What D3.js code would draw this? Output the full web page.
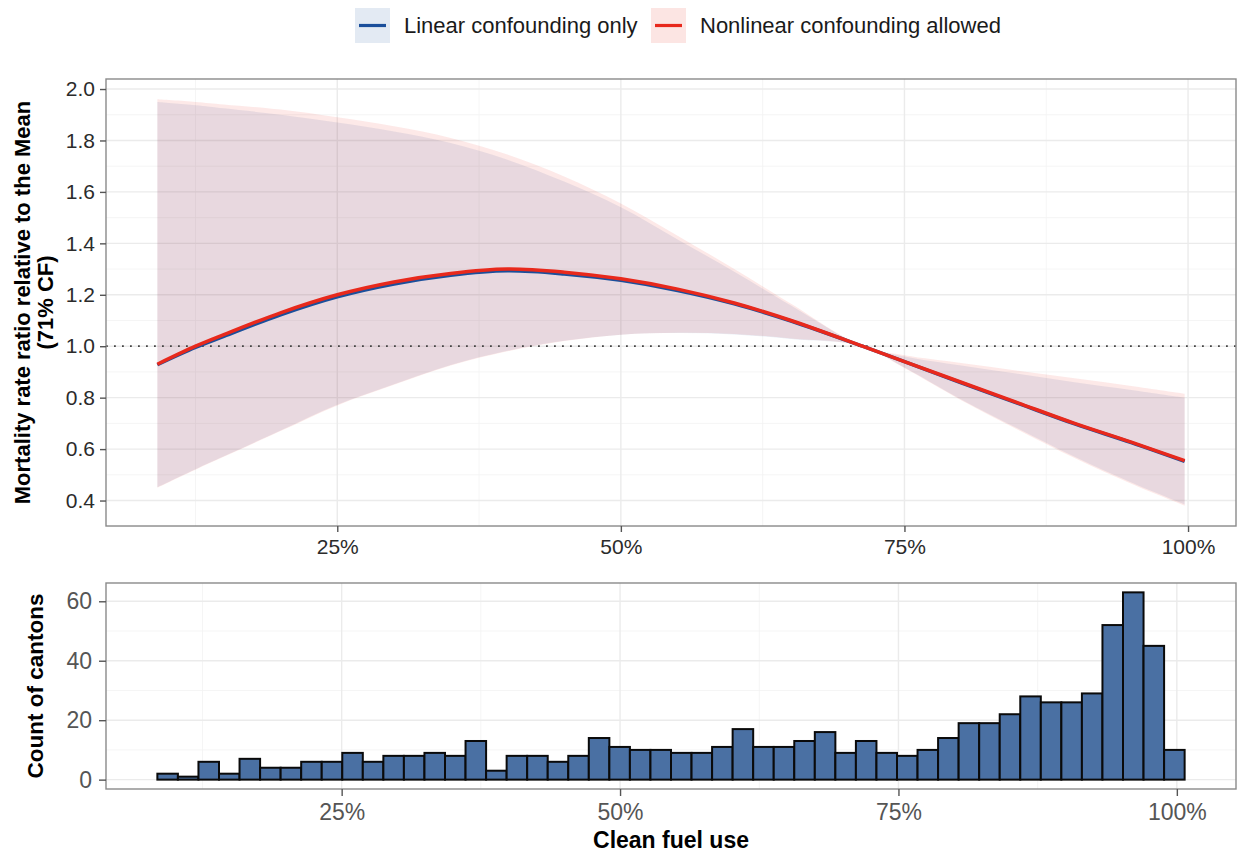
<!DOCTYPE html>
<html>
<head>
<meta charset="utf-8">
<script src="https://cdn.jsdelivr.net/npm/d3@7"></script>
<style>
  body { margin: 0; background: #fff; }
  svg text { font-family: "Liberation Sans", Arial, Helvetica, sans-serif; }
</style>
</head>
<body>
<div id="chart"></div>
<script>
// ---- data ----
// clean fuel use (share) at which the fitted curves were read
const cleanFuel   = [0.0914, 0.125, 0.15, 0.20, 0.25, 0.30, 0.35, 0.40, 0.45, 0.50, 0.55, 0.60, 0.65, 0.713, 0.75, 0.80, 0.85, 0.90, 0.95, 0.997];

// nonlinear confounding allowed (red)
const nonlinFit   = [0.930, 1.000, 1.045, 1.130, 1.200, 1.250, 1.283, 1.300, 1.288, 1.262, 1.222, 1.168, 1.100, 1.000, 0.940, 0.860, 0.780, 0.700, 0.627, 0.555];
const nonlinLower = [0.450, 0.520, 0.570, 0.670, 0.770, 0.850, 0.925, 0.980, 1.020, 1.045, 1.052, 1.048, 1.030, 1.000, 0.915, 0.790, 0.675, 0.565, 0.465, 0.380];
const nonlinUpper = [1.960, 1.950, 1.940, 1.920, 1.890, 1.855, 1.810, 1.745, 1.660, 1.555, 1.430, 1.300, 1.165, 1.000, 0.965, 0.935, 0.905, 0.875, 0.845, 0.815];

// linear confounding only (blue)
const linearFit   = [0.928, 0.995, 1.038, 1.122, 1.192, 1.242, 1.276, 1.293, 1.281, 1.256, 1.217, 1.165, 1.098, 1.000, 0.940, 0.858, 0.778, 0.698, 0.625, 0.552];
const linearLower = [0.452, 0.522, 0.572, 0.672, 0.772, 0.852, 0.927, 0.982, 1.021, 1.045, 1.051, 1.046, 1.028, 1.000, 0.917, 0.793, 0.680, 0.570, 0.470, 0.385];
const linearUpper = [1.950, 1.937, 1.925, 1.900, 1.870, 1.835, 1.790, 1.725, 1.640, 1.540, 1.415, 1.290, 1.158, 1.000, 0.960, 0.925, 0.893, 0.860, 0.830, 0.800];

// histogram of cantons (50 bins)
const binStart = 0.0845;
const binWidth = 0.01845;
const cantonCounts = [2, 1, 6, 2, 7, 4, 4, 6, 6, 9, 6, 8, 8, 9, 8, 13, 3, 8, 8, 6, 8, 14, 11, 10,
                      10, 9, 9, 11, 17, 11, 11, 13, 16, 9, 13, 9, 8, 10, 14, 19, 19, 22, 28, 26, 26, 29, 52, 63, 45, 10];

// ticks
const ratioTicks = [0.4, 0.6, 0.8, 1.0, 1.2, 1.4, 1.6, 1.8, 2.0];
const ratioMinor = [0.3, 0.5, 0.7, 0.9, 1.1, 1.3, 1.5, 1.7, 1.9];
const countTicks = [0, 20, 40, 60];
const countMinor = [10, 30, 50];
const fuelTicks  = [0.25, 0.50, 0.75, 1.00];
const fuelMinor  = [0.125, 0.375, 0.625, 0.875];

const seriesNames  = ["Linear confounding only", "Nonlinear confounding allowed"];
const seriesColors = ["#1b4f9b", "#e8291c"];

// ggplot style 5% expansion
function expand(ext) {
    let pad = (ext[1] - ext[0]) * 0.05;
    return [ext[0] - pad, ext[1] + pad];
}

class CurvePanel {
    constructor(svg) {
        this.svg = svg;
        this.initVis();
    }

    initVis() {
        let vis = this;
        vis.left = 106; vis.right = 1236; vis.top = 79; vis.bottom = 526;

        vis.g = vis.svg.append("g");

        vis.x = d3.scaleLinear()
            .domain(expand(d3.extent(cleanFuel)))
            .range([vis.left, vis.right]);
        vis.y = d3.scaleLinear()
            .domain(expand([d3.min(nonlinLower.concat(linearLower)), d3.max(nonlinUpper.concat(linearUpper))]))
            .range([vis.bottom, vis.top]);

        // grid
        vis.g.selectAll(".minor-y").data(ratioMinor).enter().append("line")
            .attr("x1", vis.left).attr("x2", vis.right)
            .attr("y1", d => vis.y(d)).attr("y2", d => vis.y(d))
            .attr("stroke", "#f2f2f2").attr("stroke-width", 0.8);
        vis.g.selectAll(".minor-x").data(fuelMinor).enter().append("line")
            .attr("y1", vis.top).attr("y2", vis.bottom)
            .attr("x1", d => vis.x(d)).attr("x2", d => vis.x(d))
            .attr("stroke", "#f2f2f2").attr("stroke-width", 0.8);
        vis.g.selectAll(".major-y").data(ratioTicks).enter().append("line")
            .attr("x1", vis.left).attr("x2", vis.right)
            .attr("y1", d => vis.y(d)).attr("y2", d => vis.y(d))
            .attr("stroke", "#ebebeb").attr("stroke-width", 1.4);
        vis.g.selectAll(".major-x").data(fuelTicks).enter().append("line")
            .attr("y1", vis.top).attr("y2", vis.bottom)
            .attr("x1", d => vis.x(d)).attr("x2", d => vis.x(d))
            .attr("stroke", "#ebebeb").attr("stroke-width", 1.4);

        vis.updateVis();
    }

    updateVis() {
        let vis = this;

        let rows = cleanFuel.map((f, i) => ({
            f: f,
            fit: [linearFit[i], nonlinFit[i]],
            lo:  [linearLower[i], nonlinLower[i]],
            hi:  [linearUpper[i], nonlinUpper[i]]
        }));

        // confidence ribbons, blue first then red
        [0, 1].forEach(k => {
            let area = d3.area()
                .x(d => vis.x(d.f))
                .y0(d => vis.y(d.lo[k]))
                .y1(d => vis.y(d.hi[k]))
                .curve(d3.curveCatmullRom.alpha(0.5));
            vis.g.append("path")
                .datum(rows)
                .attr("d", area)
                .attr("fill", seriesColors[k])
                .attr("fill-opacity", 0.1);
        });

        // reference line at 1
        vis.g.append("line")
            .attr("x1", vis.left).attr("x2", vis.right)
            .attr("y1", vis.y(1)).attr("y2", vis.y(1))
            .attr("stroke", "#444")
            .attr("stroke-width", 1.8)
            .attr("stroke-dasharray", "1.8,6.2");

        [0, 1].forEach(k => {
            let line = d3.line()
                .x(d => vis.x(d.f))
                .y(d => vis.y(d.fit[k]))
                .curve(d3.curveCatmullRom.alpha(0.5));
            vis.g.append("path")
                .datum(rows)
                .attr("d", line)
                .attr("fill", "none")
                .attr("stroke", seriesColors[k])
                .attr("stroke-width", 3.5);
        });

        // panel border
        vis.g.append("rect")
            .attr("x", vis.left).attr("y", vis.top)
            .attr("width", vis.right - vis.left).attr("height", vis.bottom - vis.top)
            .attr("fill", "none").attr("stroke", "#8a8a8a").attr("stroke-width", 1.4);

        // axes
        let xAxis = d3.axisBottom(vis.x).tickValues(fuelTicks)
            .tickFormat(d3.format(".0%")).tickSize(6).tickPadding(7).tickSizeOuter(0);
        let yAxis = d3.axisLeft(vis.y).tickValues(ratioTicks)
            .tickFormat(d3.format(".1f")).tickSize(6).tickPadding(5).tickSizeOuter(0);

        let gx = vis.g.append("g").attr("transform", `translate(0,${vis.bottom})`).call(xAxis);
        let gy = vis.g.append("g").attr("transform", `translate(${vis.left},0)`).call(yAxis);
        [gx, gy].forEach(a => {
            a.select(".domain").remove();
            a.selectAll(".tick line").attr("stroke", "#555").attr("stroke-width", 1.4);
            a.selectAll(".tick text").attr("fill", "#2b2b2b").style("font-size", "21px");
        });

        // y title (two lines)
        let cy = (vis.top + vis.bottom) / 2;
        vis.g.append("text")
            .attr("transform", `translate(30,${cy}) rotate(-90)`)
            .attr("text-anchor", "middle")
            .style("font-size", "22px").style("font-weight", "bold")
            .text("Mortality rate ratio relative to the Mean");
        vis.g.append("text")
            .attr("transform", `translate(53,${cy}) rotate(-90)`)
            .attr("text-anchor", "middle")
            .style("font-size", "22px").style("font-weight", "bold")
            .text("(71% CF)");
    }
}

class HistPanel {
    constructor(svg) {
        this.svg = svg;
        this.initVis();
    }

    initVis() {
        let vis = this;
        vis.left = 106; vis.right = 1236; vis.top = 583; vis.bottom = 789;

        vis.g = vis.svg.append("g");

        vis.bins = cantonCounts.map((c, i) => ({
            x0: binStart + i * binWidth,
            x1: binStart + (i + 1) * binWidth,
            count: c
        }));

        vis.x = d3.scaleLinear()
            .domain(expand([binStart, binStart + cantonCounts.length * binWidth]))
            .range([vis.left, vis.right]);
        vis.y = d3.scaleLinear()
            .domain(expand([0, d3.max(cantonCounts)]))
            .range([vis.bottom, vis.top]);

        vis.g.selectAll(".minor-y").data(countMinor).enter().append("line")
            .attr("x1", vis.left).attr("x2", vis.right)
            .attr("y1", d => vis.y(d)).attr("y2", d => vis.y(d))
            .attr("stroke", "#f2f2f2").attr("stroke-width", 0.8);
        vis.g.selectAll(".minor-x").data(fuelMinor).enter().append("line")
            .attr("y1", vis.top).attr("y2", vis.bottom)
            .attr("x1", d => vis.x(d)).attr("x2", d => vis.x(d))
            .attr("stroke", "#f2f2f2").attr("stroke-width", 0.8);
        vis.g.selectAll(".major-y").data(countTicks).enter().append("line")
            .attr("x1", vis.left).attr("x2", vis.right)
            .attr("y1", d => vis.y(d)).attr("y2", d => vis.y(d))
            .attr("stroke", "#ebebeb").attr("stroke-width", 1.4);
        vis.g.selectAll(".major-x").data(fuelTicks).enter().append("line")
            .attr("y1", vis.top).attr("y2", vis.bottom)
            .attr("x1", d => vis.x(d)).attr("x2", d => vis.x(d))
            .attr("stroke", "#ebebeb").attr("stroke-width", 1.4);

        vis.updateVis();
    }

    updateVis() {
        let vis = this;

        vis.g.selectAll(".bar")
            .data(vis.bins)
            .enter().append("rect")
            .attr("class", "bar")
            .attr("x", d => vis.x(d.x0))
            .attr("width", d => vis.x(d.x1) - vis.x(d.x0))
            .attr("y", d => vis.y(d.count))
            .attr("height", d => vis.y(0) - vis.y(d.count))
            .attr("fill", "#4a70a3")
            .attr("stroke", "#0a0a0a")
            .attr("stroke-width", 2);

        vis.g.append("rect")
            .attr("x", vis.left).attr("y", vis.top)
            .attr("width", vis.right - vis.left).attr("height", vis.bottom - vis.top)
            .attr("fill", "none").attr("stroke", "#8a8a8a").attr("stroke-width", 1.4);

        let xAxis = d3.axisBottom(vis.x).tickValues(fuelTicks)
            .tickFormat(d3.format(".0%")).tickSize(7).tickPadding(8).tickSizeOuter(0);
        let yAxis = d3.axisLeft(vis.y).tickValues(countTicks)
            .tickSize(7).tickPadding(7).tickSizeOuter(0);

        let gx = vis.g.append("g").attr("transform", `translate(0,${vis.bottom})`).call(xAxis);
        let gy = vis.g.append("g").attr("transform", `translate(${vis.left},0)`).call(yAxis);
        [gx, gy].forEach(a => {
            a.select(".domain").remove();
            a.selectAll(".tick line").attr("stroke", "#555").attr("stroke-width", 1.4);
            a.selectAll(".tick text").attr("fill", "#555").style("font-size", "23px");
        });

        vis.g.append("text")
            .attr("transform", `translate(43,${(vis.top + vis.bottom) / 2}) rotate(-90)`)
            .attr("text-anchor", "middle")
            .style("font-size", "22.5px").style("font-weight", "bold")
            .text("Count of cantons");

        vis.g.append("text")
            .attr("x", (vis.left + vis.right) / 2)
            .attr("y", 848)
            .attr("text-anchor", "middle")
            .style("font-size", "23px").style("font-weight", "bold")
            .text("Clean fuel use");
    }
}

const svg = d3.select("#chart").append("svg")
    .attr("width", 1238)
    .attr("height", 852);

// legend
const keyX = [355, 651];
const legend = svg.append("g");
seriesNames.forEach((name, k) => {
    let g = legend.append("g").attr("transform", `translate(${keyX[k]},8)`);
    g.append("rect")
        .attr("width", 35).attr("height", 35)
        .attr("fill", seriesColors[k]).attr("fill-opacity", 0.12);
    g.append("line")
        .attr("x1", 4).attr("x2", 31).attr("y1", 17.5).attr("y2", 17.5)
        .attr("stroke", seriesColors[k]).attr("stroke-width", 3.2);
    g.append("text")
        .attr("x", 49).attr("y", 17.5).attr("dy", "0.36em")
        .attr("fill", "#1a1a1a")
        .style("font-size", "22px")
        .text(name);
});

new CurvePanel(svg);
new HistPanel(svg);
</script>
</body>
</html>
